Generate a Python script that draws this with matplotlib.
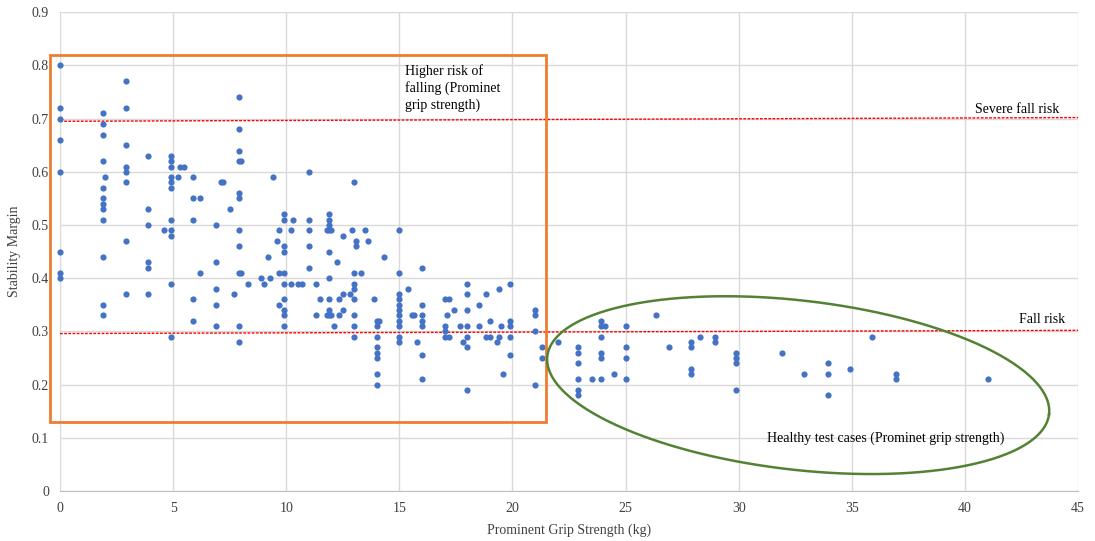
import numpy as np
import matplotlib
matplotlib.use("Agg")
import matplotlib.pyplot as plt

plt.rcParams['font.family'] = ['Liberation Serif', 'DejaVu Serif']

# grip strength (kg) for each column of points, and the stability margins measured there
grip_kg = [0, 1.9, 2.0, 2.9, 3.9, 4.6, 4.9, 5.2, 5.3, 5.5, 5.9, 6.2, 6.9, 7.1, 7.2, 7.5, 7.7,
           7.9, 8.0, 8.3, 8.9, 9.0, 9.2, 9.3, 9.4, 9.6, 9.7, 9.9, 10.2, 10.3, 10.5, 10.7,
           11.0, 11.3, 11.5, 11.8, 11.9, 12.0, 12.1, 12.25, 12.35, 12.5, 12.8, 12.9, 13.0,
           13.1, 13.3, 13.5, 13.6, 13.9, 14.0, 14.1, 14.3, 15.0, 15.4, 15.55, 15.65, 15.8,
           16.0, 17.0, 17.1, 17.2, 17.4, 17.7, 17.8, 18.0, 18.5, 18.85, 19.0, 19.3, 19.4,
           19.5, 19.6, 19.9, 21.0, 21.3, 22.0, 22.9, 23.5, 23.9, 24.1, 24.5, 25.0, 26.35,
           26.9, 27.9, 28.3, 28.95, 29.9, 31.9, 32.9, 33.96, 34.94, 35.9, 36.96, 41.0]
margins = [
    [0.80, 0.72, 0.70, 0.66, 0.60, 0.45, 0.41, 0.40],
    [0.71, 0.69, 0.67, 0.62, 0.57, 0.55, 0.54, 0.53, 0.51, 0.44, 0.35, 0.33],
    [0.59],
    [0.77, 0.72, 0.65, 0.61, 0.60, 0.58, 0.47, 0.37],
    [0.63, 0.53, 0.50, 0.43, 0.42, 0.37],
    [0.49],
    [0.63, 0.62, 0.61, 0.59, 0.58, 0.57, 0.51, 0.49, 0.48, 0.39, 0.29],
    [0.59],
    [0.61],
    [0.61],
    [0.59, 0.55, 0.51, 0.36, 0.32],
    [0.55, 0.41],
    [0.50, 0.43, 0.38, 0.35, 0.31],
    [0.58],
    [0.58],
    [0.53],
    [0.37],
    [0.74, 0.68, 0.64, 0.62, 0.56, 0.55, 0.49, 0.46, 0.41, 0.31, 0.28],
    [0.62, 0.41],
    [0.39],
    [0.40],
    [0.39],
    [0.44],
    [0.40],
    [0.59],
    [0.47],
    [0.49, 0.41, 0.35],
    [0.52, 0.51, 0.46, 0.45, 0.41, 0.39, 0.36, 0.34, 0.33, 0.31],
    [0.49, 0.39],
    [0.51],
    [0.39],
    [0.39],
    [0.60, 0.51, 0.49, 0.46, 0.42],
    [0.39, 0.33],
    [0.36],
    [0.49, 0.33],
    [0.52, 0.51, 0.50, 0.49, 0.45, 0.40, 0.36, 0.34, 0.33],
    [0.49, 0.33],
    [0.31],
    [0.43],
    [0.36, 0.33],
    [0.48, 0.37, 0.34],
    [0.37],
    [0.49],
    [0.58, 0.41, 0.39, 0.38, 0.36, 0.33, 0.31, 0.29],
    [0.47, 0.46],
    [0.41],
    [0.49],
    [0.47],
    [0.36],
    [0.32, 0.31, 0.29, 0.27, 0.26, 0.25, 0.22, 0.20],
    [0.32],
    [0.44],
    [0.49, 0.41, 0.37, 0.36, 0.35, 0.34, 0.33, 0.32, 0.31, 0.29, 0.28],
    [0.38],
    [0.33],
    [0.33],
    [0.28],
    [0.42, 0.35, 0.33, 0.32, 0.31, 0.255, 0.21],
    [0.36, 0.31, 0.30, 0.29],
    [0.33],
    [0.36, 0.29],
    [0.34],
    [0.31],
    [0.28],
    [0.39, 0.37, 0.34, 0.31, 0.29, 0.27, 0.19],
    [0.35, 0.31],
    [0.37, 0.29],
    [0.32, 0.29],
    [0.28],
    [0.38, 0.29],
    [0.31],
    [0.22],
    [0.39, 0.32, 0.31, 0.29, 0.255],
    [0.34, 0.33, 0.30, 0.20],
    [0.27, 0.25],
    [0.28],
    [0.27, 0.26, 0.24, 0.21, 0.19, 0.18],
    [0.21],
    [0.32, 0.31, 0.29, 0.26, 0.25, 0.21],
    [0.31],
    [0.22],
    [0.31, 0.27, 0.25, 0.21],
    [0.33],
    [0.27],
    [0.28, 0.27, 0.23, 0.22],
    [0.29],
    [0.29, 0.28],
    [0.26, 0.25, 0.24, 0.19],
    [0.26],
    [0.22],
    [0.24, 0.22, 0.18],
    [0.23],
    [0.29],
    [0.22, 0.21],
    [0.21],
]

x_ticks = [0, 5, 10, 15, 20, 25, 30, 35, 40, 45]
y_ticks = [0, 0.1, 0.2, 0.3, 0.4, 0.5, 0.6, 0.7, 0.8, 0.9]
y_tick_labels = ['0', '0.1', '0.2', '0.3', '0.4', '0.5', '0.6', '0.7', '0.8', '0.9']

# threshold lines (start value at x=0, end value at x=45)
severe_line = [0.695, 0.702]
fall_line = [0.296, 0.302]

xs = [g for g, ys in zip(grip_kg, margins) for _ in ys]
ys = [y for ys_ in margins for y in ys_]

fig = plt.figure(figsize=(10.95, 5.41), dpi=100)
ax = fig.add_axes([0.0548, 0.0924, 0.9297, 0.885])

ax.scatter(xs, ys, s=20, color='#4472C4', zorder=3, clip_on=False, linewidths=0)

ax.plot([0, 45], severe_line, color='#FF0000', linestyle=(0, (2, 1)), linewidth=1.0, zorder=2)
ax.plot([0, 45], fall_line, color='#FF0000', linestyle=(0, (2, 1)), linewidth=1.0, zorder=2)
ax.text(42.3, 0.718, 'Severe fall risk', ha='center', va='center', fontsize=10)
ax.text(43.4, 0.323, 'Fall risk', ha='center', va='center', fontsize=10)

# orange box around the weaker-grip cases
rect = plt.Rectangle((-0.44, 0.13), 21.94, 0.69, fill=False, edgecolor='#ED7D31',
                     linewidth=2.0, zorder=4, clip_on=False)
ax.add_patch(rect)
ax.text(15.25, 0.802, 'Higher risk of\nfalling (Prominet\ngrip strength)', ha='left', va='top',
        fontsize=10, linespacing=1.3)

# green ellipse (drawn in pixel space so the tilt looks right)
px_x, px_y = 22.62, 532.0
t = np.linspace(0, 2 * np.pi, 400)
a, b, th = 252.5, 84.6, np.radians(6.6)
ex = 32.63 + (a * np.cos(t) * np.cos(th) - b * np.sin(t) * np.sin(th)) / px_x
ey = 0.199 - (a * np.cos(t) * np.sin(th) + b * np.sin(t) * np.cos(th)) / px_y
ax.plot(ex, ey, color='#548235', linewidth=1.8, zorder=4)
ax.text(36.5, 0.10, 'Healthy test cases (Prominet grip strength)', ha='center', va='center',
        fontsize=10)

ax.set_xlim(0, 45)
ax.set_ylim(0, 0.9)
ax.set_xticks(x_ticks)
ax.set_yticks(y_ticks)
ax.set_yticklabels(y_tick_labels)
ax.tick_params(length=0, labelsize=10, colors='#404040', pad=8)
ax.grid(True, color='#D9D9D9', linewidth=1.0)
ax.set_axisbelow(True)
for side in ['top', 'right', 'left']:
    ax.spines[side].set_visible(False)
ax.spines['bottom'].set_color('#BFBFBF')
ax.set_xlabel('Prominent Grip Strength (kg)', fontsize=10, color='#404040', labelpad=6)
ax.set_ylabel('Stability Margin', fontsize=10, color='#404040', labelpad=8)

fig.savefig('out.png', dpi=100)
